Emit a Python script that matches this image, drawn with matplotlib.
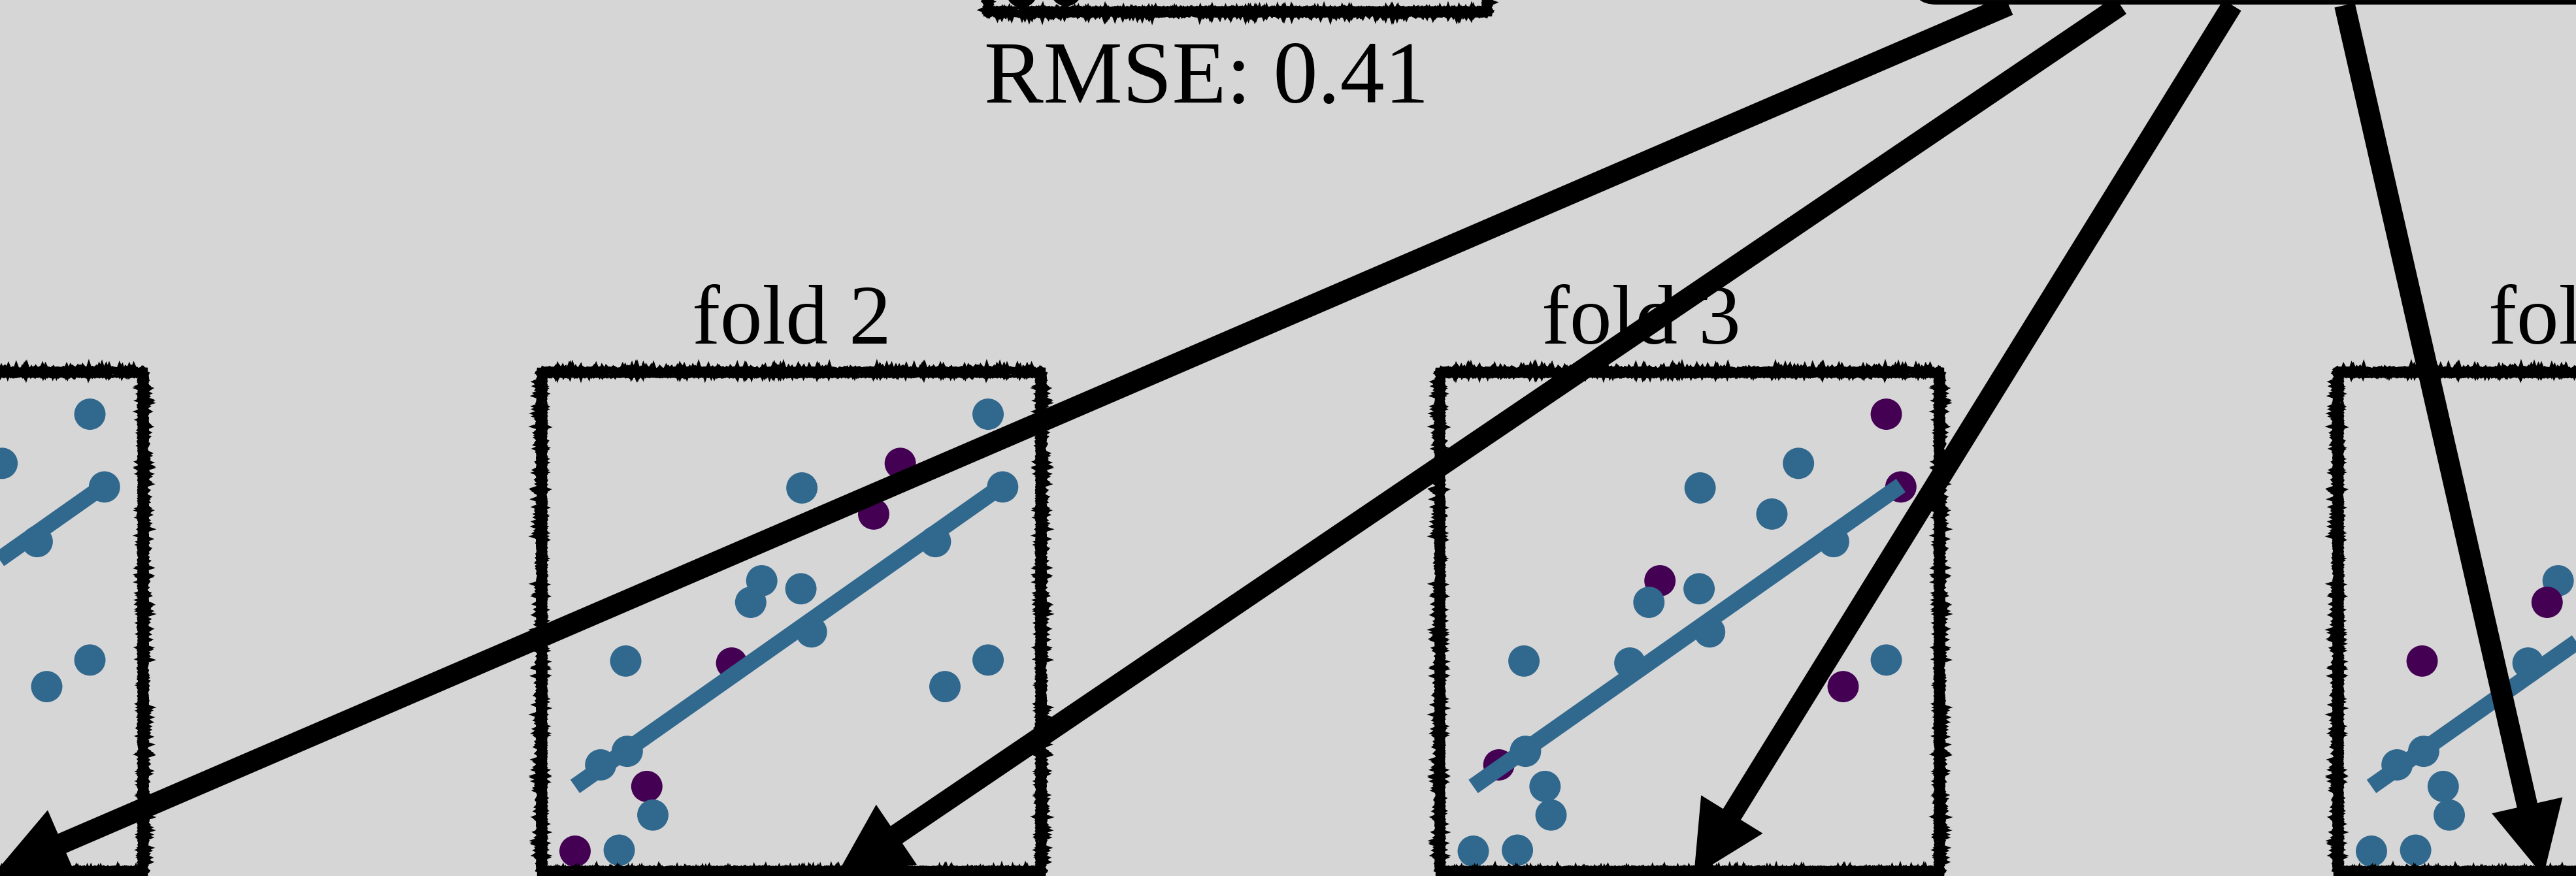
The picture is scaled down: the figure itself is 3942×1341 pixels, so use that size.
import matplotlib.pyplot as plt
from matplotlib.patches import FancyBboxPatch
import numpy as np

BG = '#d6d6d6'
BLUE = '#31688e'
PURPLE = '#440154'

# toy regression data, the same 20 points in every panel
x = np.array([8.92, 7.17, 5.21, 6.64, 9.21, 7.87, 4.41, 5.19, 4.19, 5.40,
              1.70, 3.81, 8.92, 8.06, 1.73, 1.20, 2.12, 2.24, 0.69, 1.57])
y = np.array([9.14, 8.16, 7.67, 7.15, 7.69, 6.60, 5.82, 5.66, 5.39, 4.80,
              4.22, 4.18, 4.24, 3.71, 2.42, 2.15, 1.72, 1.15, 0.43, 0.45])

# held-out points of each fold (indices into x / y)
fold_test = [[14, 17, 19, 2, 7],
             [1, 3, 11, 16, 18],
             [0, 4, 6, 13, 15],
             [8, 10, 5, 12, 9]]
fold_names = ['fold 1', 'fold 2', 'fold 3', 'fold 4']

# fitted line, evaluated at the ends of the x range
fit_x = [0.69, 9.21]
fit_y = [1.72, 7.72]

rmse_label = 'RMSE: 0.41'

# ---- layout (pixels, measured from the top left corner) ----
W, H = 3942, 1341
BOX = 768
fold_left = [-547.5, 827, 2201.5, 3576]
fold_top = 568
full_left, full_top = 1510, -748
title_base = 526
title_shift = [0, 0, -74, 0]

arrow_tails = [(3074, 8), (3245, 8), (3416, 8), (3588, 8)]
arrow_tips = [(-7, 1335), (1280, 1340), (2592, 1341), (3892, 1341)]

plt.rcParams['font.family'] = ['Liberation Serif', 'DejaVu Serif']

fig = plt.figure(figsize=(W / 100, H / 100), dpi=100, facecolor=BG)


def rough_border(ax):
    # hand-drawn frame: each side stroked on its own (no spike where the
    # outline closes), a heavy rough line plus a thinner one just inside
    for pad, lw, sketch in [(0.0, 7.5, (1.6, 1.0, 2)), (0.010, 3, (0.8, 2, 2))]:
        a, b = pad, 1 - pad
        sides = [([a, b], [a, a]), ([b, b], [a, b]),
                 ([b, a], [b, b]), ([a, a], [b, a])]
        for sx, sy in sides:
            ln, = ax.plot(sx, sy, color='k', lw=lw, transform=ax.transAxes,
                          clip_on=False, solid_joinstyle='miter',
                          solid_capstyle='projecting', zorder=4)
            ln.set_sketch_params(*sketch)


def panel(left, top):
    ax = fig.add_axes([left / W, 1 - (top + BOX) / H, BOX / W, BOX / H])
    ax.set_xlim(0, 10)
    ax.set_ylim(0, 10)
    ax.axis('off')
    rough_border(ax)
    return ax


# full data set on top
ax = panel(full_left, full_top)
ax.scatter(x, y, s=1190, c='k', linewidths=0, zorder=2)

# one panel per fold, held-out points in purple
for i, left in enumerate(fold_left):
    ax = panel(left, fold_top)
    cols = np.array([BLUE] * len(x), dtype=object)
    cols[fold_test[i]] = PURPLE
    ax.scatter(x, y, s=1190, c=list(cols), linewidths=0, zorder=2)
    ax.plot(fit_x, fit_y, color=BLUE, lw=18, solid_capstyle='butt', zorder=3)

# overlay in pixel coordinates for labels and arrows
ov = fig.add_axes([0, 0, 1, 1], zorder=10)
ov.set_xlim(0, W)
ov.set_ylim(H, 0)
ov.axis('off')

ov.text(1506, 157, rmse_label, ha='left', va='baseline', fontsize=98)
for name, left, dx in zip(fold_names, fold_left, title_shift):
    cx = left + BOX / 2 + dx
    if cx < 0:
        continue  # title lies off the canvas
    ov.text(cx, title_base, name, ha='center', va='baseline', fontsize=93)

for (tx, ty), (hx, hy) in zip(arrow_tails, arrow_tips):
    ov.arrow(tx, ty, hx - tx, hy - ty, width=32, head_width=111,
             head_length=111, length_includes_head=True, fc='k', ec='none',
             zorder=5)

model_box = FancyBboxPatch((2928, -300), 1200, 303.5,
                           boxstyle='round,pad=0,rounding_size=35',
                           fc=BG, ec='k', lw=5, zorder=6)
ov.add_patch(model_box)

fig.savefig('out.png', dpi=100, facecolor=BG)
